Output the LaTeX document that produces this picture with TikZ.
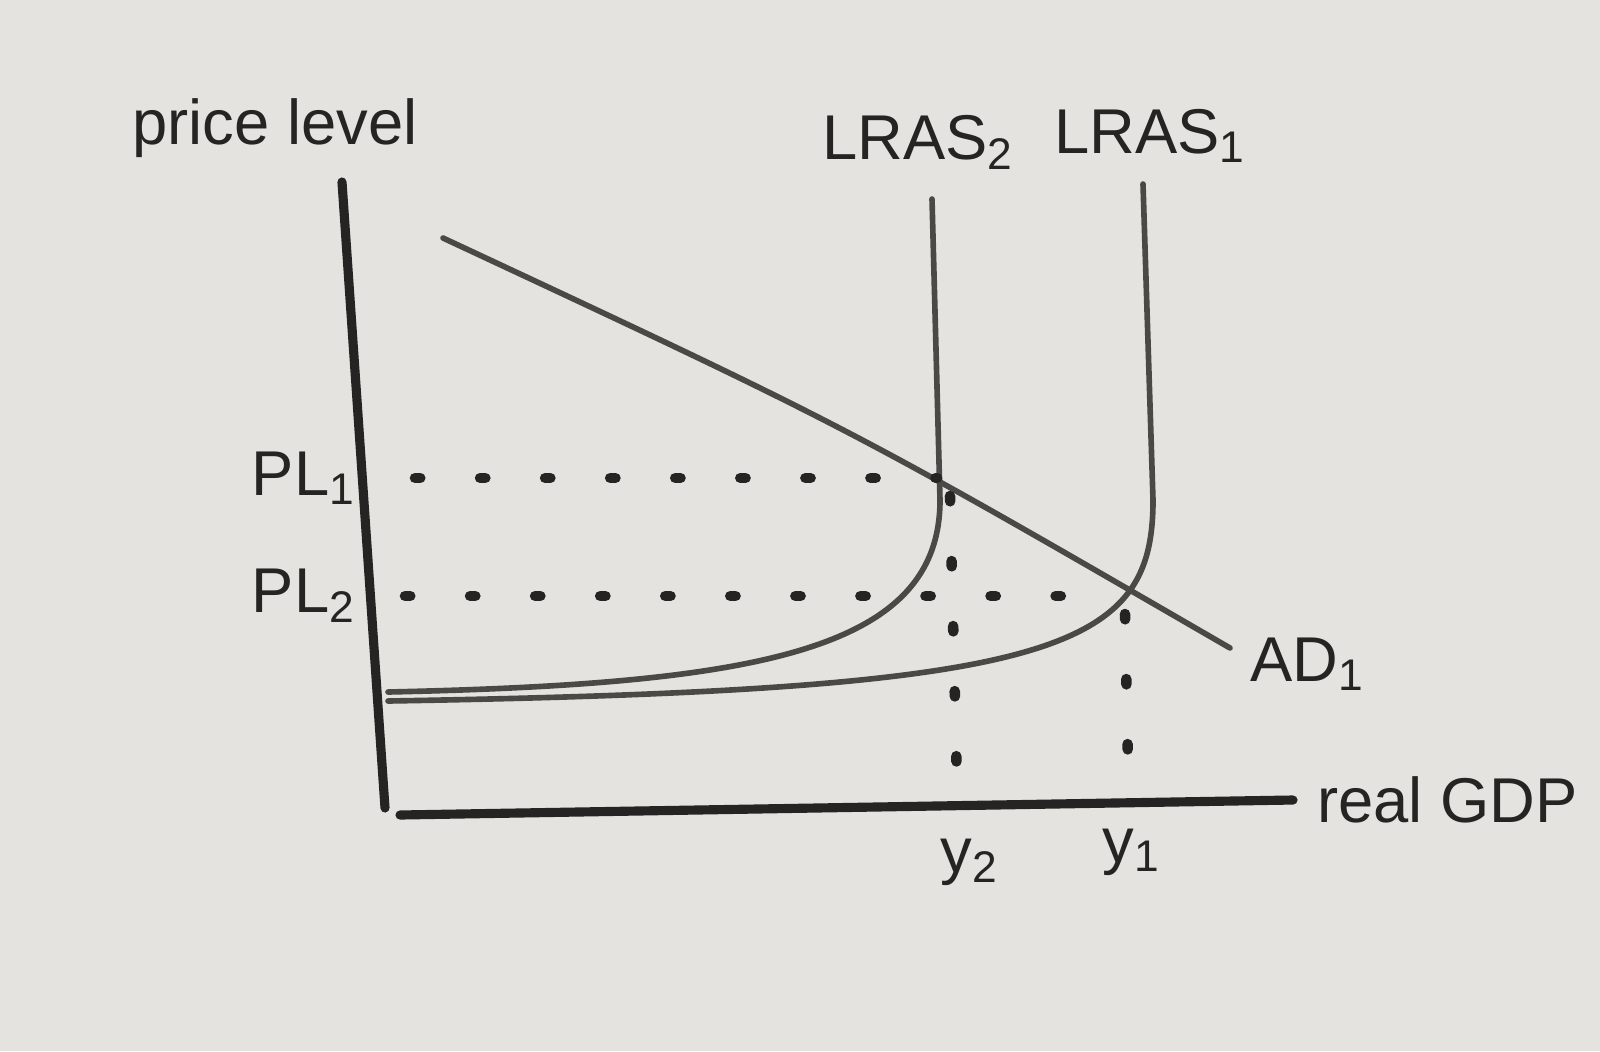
\documentclass[tikz,border=0pt]{standalone}
\usepackage{fontspec}
\setmainfont{Liberation Sans}
\usepackage{xcolor}
\usepackage{tikz}
\usetikzlibrary{positioning,calc}
\definecolor{wbInk}{HTML}{262422}
\definecolor{wbLine}{HTML}{4B4946}
\definecolor{wbBoard}{HTML}{E4E3DF}
\tikzset{
  axis line/.style={line width=2.6pt,draw=wbInk,line cap=round},
  curve line/.style={line width=1.6pt,draw=wbLine,line cap=round},
  guide line/.style={line width=3pt,draw=wbInk,line cap=round,dash pattern=on 1.5pt off 17pt},
  board label/.style={font=\fontsize{18}{21}\selectfont,text=wbInk,inner sep=1pt}
}

\begin{document}
\begin{tikzpicture}[x=0.01cm,y=-0.01cm]
\fill[wbBoard] (0,0) rectangle (1600,1051);
\useasboundingbox (0,0) rectangle (1600,1051);
\coordinate (ytop) at (342,182);
\coordinate (ybot) at (385,808);
\coordinate (xleft) at (400,815);
\coordinate (xright) at (1293,800);
\coordinate (adtop) at (443,238);
\coordinate (adend) at (1230,648);
\coordinate (lras2top) at (932,199);
\coordinate (lras1top) at (1143,184);
\coordinate (pl1start) at (415,478);
\coordinate (pl1meet) at (937,478);
\coordinate (pl2start) at (405,596);
\coordinate (pl2meet) at (1118,596);
\coordinate (y2top) at (950,496);
\coordinate (y2foot) at (957,785);
\coordinate (y1top) at (1125,614);
\coordinate (y1foot) at (1128,765);
\draw[axis line] (ytop) -- (ybot);
\draw[axis line] (xleft) -- (xright);
\draw[curve line] (lras2top) -- (940,500) .. controls (940,650) and (760,684) .. (388,692);
\draw[curve line] (lras1top) -- (1153,500) .. controls (1153,650) and (1060,690) .. (388,701);
\draw[curve line] (adtop) .. controls (850,428) .. (adend);
\draw[guide line] (pl1start) -- (pl1meet);
\draw[guide line] (pl2start) -- (pl2meet);
\draw[guide line] (y2top) -- (y2foot);
\draw[guide line] (y1top) -- (y1foot);
\node[board label] (pricelevel) at (275,128) {price level};
\node[board label] (lras2) at (918,142) {LRAS\textsubscript{2}};
\node[board label] (lras1) at (1150,136) {LRAS\textsubscript{1}};
\node[board label,left=5.5mm of pl1start] (pl1) {PL\textsubscript{1}};
\node[board label,left=4.5mm of pl2start] (pl2) {PL\textsubscript{2}};
\node[board label,anchor=west] (ad1) at ($(adend)+(16,16)$) {AD\textsubscript{1}};
\node[board label,right=2mm of xright] (gdp) {real GDP};
\node[board label] (y2) at (970,862) {y\textsubscript{2}};
\node[board label] (y1) at (1132,852) {y\textsubscript{1}};
\end{tikzpicture}
\end{document}
